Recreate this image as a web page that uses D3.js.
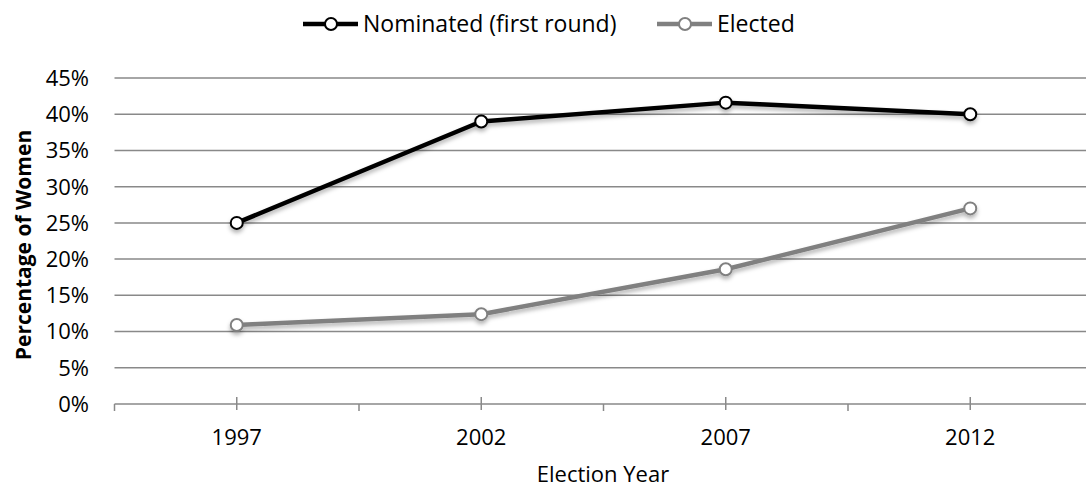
<html>
<head>
<title>Women nominated and elected</title>
<style>
  body { margin: 0; background: #fff; }
  svg text { font-family: "Open Sans", "Noto Sans", sans-serif; fill: #000; }
</style>
</head>
<body>
<div id="chart"></div>
<script src="https://d3js.org/d3.v7.min.js"></script>
<script>
var years = ["1997", "2002", "2007", "2012"];
var nominated = [0.250, 0.390, 0.416, 0.400];
var elected = [0.109, 0.124, 0.186, 0.270];
var yTicks = [0, 0.05, 0.10, 0.15, 0.20, 0.25, 0.30, 0.35, 0.40, 0.45];
var seriesNames = ["Nominated (first round)", "Elected"];

var W = 1086, H = 489;
var svg = d3.select("#chart").append("svg")
    .attr("width", W)
    .attr("height", H);

var defs = svg.append("defs");
defs.append("filter").attr("id", "shadow")
    .attr("x", "-20%").attr("y", "-20%").attr("width", "140%").attr("height", "160%")
  .append("feDropShadow")
    .attr("dx", 0).attr("dy", 3).attr("stdDeviation", 2)
    .attr("flood-color", "#000").attr("flood-opacity", 0.3);

var x = d3.scaleBand().domain(years).range([114.5, 1092.5]).padding(0);
var y = d3.scaleLinear().domain([0, 0.45]).range([404, 78]);

// gridlines
svg.append("g").selectAll("line")
    .data(yTicks.slice(1))
    .enter().append("line")
    .attr("x1", 114.5).attr("x2", W)
    .attr("y1", function(d) { return y(d); })
    .attr("y2", function(d) { return y(d); })
    .style("stroke", "#898989")
    .style("stroke-width", 1.5);

// y labels
svg.append("g").selectAll("text")
    .data(yTicks)
    .enter().append("text")
    .attr("x", 89)
    .attr("y", function(d) { return y(d); })
    .attr("dy", "0.36em")
    .attr("text-anchor", "end")
    .style("font-size", "22px")
    .text(function(d) { return d3.format(".0%")(d); });

// x axis line and ticks
var xAxis = svg.append("g");
xAxis.append("line")
    .attr("x1", 114.5).attr("x2", W)
    .attr("y1", y(0)).attr("y2", y(0))
    .style("stroke", "#898989").style("stroke-width", 1.5);

var bounds = years.map(function(d) { return x(d); }).concat([x.range()[1]]);
xAxis.selectAll(".btick")
    .data(bounds)
    .enter().append("line")
    .attr("class", "btick")
    .attr("x1", function(d) { return d; }).attr("x2", function(d) { return d; })
    .attr("y1", y(0)).attr("y2", y(0) + 7)
    .style("stroke", "#898989").style("stroke-width", 1.5);

xAxis.selectAll(".ctick")
    .data(years)
    .enter().append("line")
    .attr("class", "ctick")
    .attr("x1", function(d) { return x(d) + x.bandwidth() / 2; })
    .attr("x2", function(d) { return x(d) + x.bandwidth() / 2; })
    .attr("y1", y(0) - 7).attr("y2", y(0) + 6)
    .style("stroke", "#898989").style("stroke-width", 1.5);

xAxis.selectAll("text")
    .data(years)
    .enter().append("text")
    .attr("x", function(d) { return x(d) + x.bandwidth() / 2; })
    .attr("y", 437)
    .attr("dy", "0.36em")
    .attr("text-anchor", "middle")
    .style("font-size", "22px")
    .text(function(d) { return d; });

// axis titles
svg.append("text")
    .attr("x", 603).attr("y", 474)
    .attr("dy", "0.36em")
    .attr("text-anchor", "middle")
    .style("font-size", "22px")
    .text("Election Year");

svg.append("text")
    .attr("transform", "translate(23,245) rotate(-90)")
    .attr("dy", "0.36em")
    .attr("text-anchor", "middle")
    .style("font-size", "21px")
    .style("font-weight", "bold")
    .text("Percentage of Women");

// series
var series = [
    { name: seriesNames[0], values: nominated, color: "#000000" },
    { name: seriesNames[1], values: elected, color: "#808080" }
];

var line = d3.line()
    .x(function(d, i) { return x(years[i]) + x.bandwidth() / 2; })
    .y(function(d) { return y(d); });

series.forEach(function(s) {
    var g = svg.append("g").attr("filter", "url(#shadow)");
    g.append("path")
        .attr("d", line(s.values))
        .attr("fill", "none")
        .style("stroke", s.color)
        .style("stroke-width", 4.5)
        .style("stroke-linejoin", "round");
    g.selectAll("circle")
        .data(s.values)
        .enter().append("circle")
        .attr("cx", function(d, i) { return x(years[i]) + x.bandwidth() / 2; })
        .attr("cy", function(d) { return y(d); })
        .attr("r", 6)
        .attr("fill", "#fff")
        .style("stroke", s.color)
        .style("stroke-width", 2);
});

// legend
var legendX = [303, 657];
var legend = svg.append("g");
series.forEach(function(s, i) {
    var lg = legend.append("g").attr("transform", "translate(" + legendX[i] + ",24)");
    lg.append("line")
        .attr("x1", 0).attr("x2", 55)
        .attr("y1", 0).attr("y2", 0)
        .style("stroke", s.color).style("stroke-width", 4.5);
    lg.append("circle")
        .attr("cx", 28).attr("cy", 0).attr("r", 6)
        .attr("fill", "#fff")
        .style("stroke", s.color).style("stroke-width", 2);
    lg.append("text")
        .attr("x", 60).attr("y", 0)
        .attr("dy", "0.36em")
        .style("font-size", "23px")
        .text(s.name);
});
</script>
</body>
</html>
